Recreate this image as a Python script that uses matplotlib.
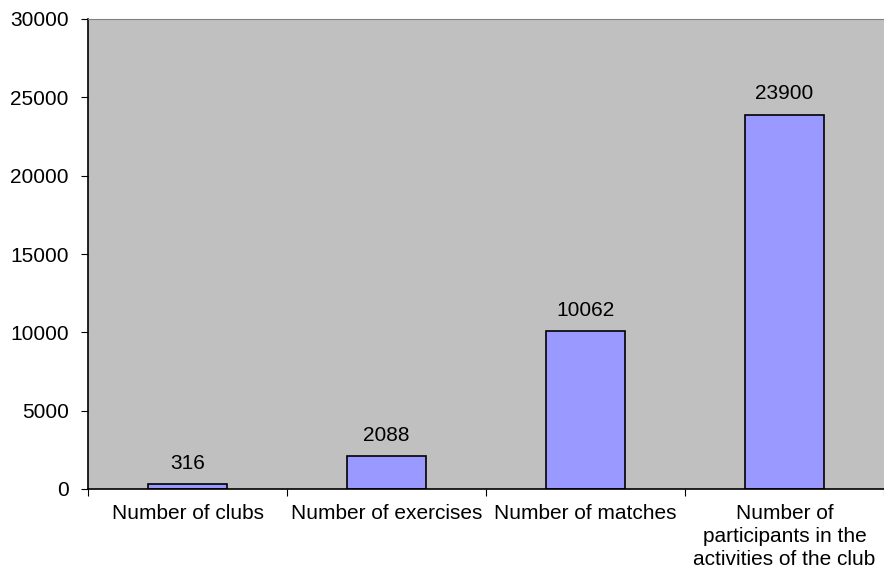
import matplotlib.pyplot as plt

categories = [
    "Number of clubs",
    "Number of exercises",
    "Number of matches",
    "Number of\nparticipants in the\nactivities of the club",
]
values = [316, 2088, 10062, 23900]

plt.rcParams["font.family"] = ["Liberation Sans", "DejaVu Sans"]

fig = plt.figure(figsize=(8.84, 5.77), dpi=100)
ax = fig.add_axes([88 / 884, 88 / 577, 796 / 884, 470 / 577])
ax.set_facecolor("#C0C0C0")

x = list(range(len(categories)))
bars = ax.bar(x, values, width=0.4, color="#9999FF", edgecolor="black", linewidth=1.2)
for xi, v in zip(x, values):
    ax.annotate(str(v), (xi, v), xytext=(0, 8), textcoords="offset points",
                ha="center", va="bottom", fontsize=15)

ax.set_xlim(-0.5, len(categories) - 0.5)
ax.set_ylim(0, 30000)
ax.set_yticks(range(0, 30001, 5000))
ax.set_xticks([i - 0.5 for i in range(len(categories) + 1)])
ax.set_xticklabels([])
ax.set_xticks(x, minor=True)
ax.set_xticklabels(categories, minor=True, fontsize=15, linespacing=1.25)
ax.tick_params(axis="x", which="minor", length=0, pad=11)
ax.tick_params(axis="x", which="major", length=5, direction="out")
ax.tick_params(axis="y", length=5, labelsize=15, pad=9)

ax.spines["right"].set_visible(False)
ax.spines["top"].set_color("#808080")
ax.spines["left"].set_linewidth(1.2)
ax.spines["bottom"].set_linewidth(1.2)

fig.savefig("out.png", dpi=100)
